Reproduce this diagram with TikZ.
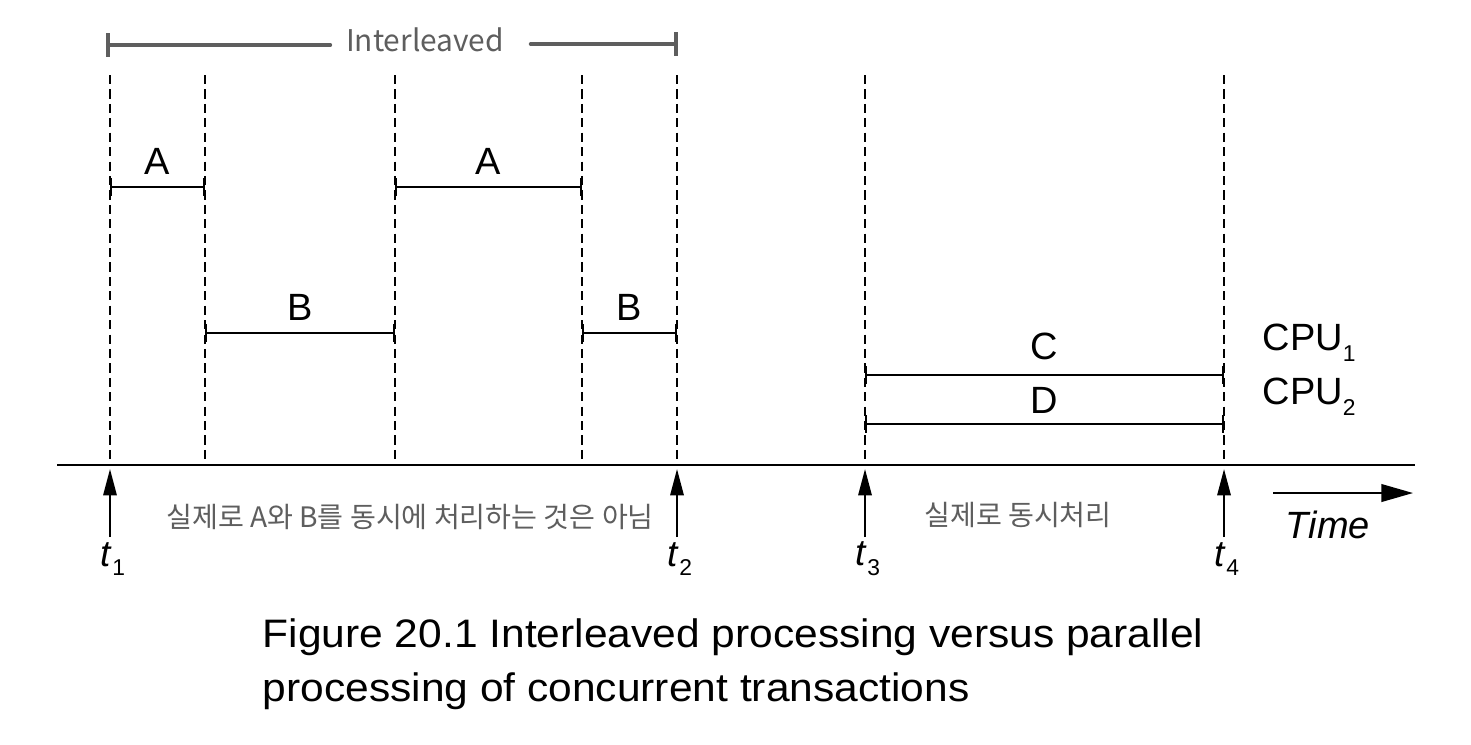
\documentclass[tikz,border=0pt]{standalone}
\usepackage{fontspec}
\setmainfont{Liberation Sans}
\newfontfamily\hangul{Noto Sans CJK KR}
\newfontfamily\capfont[FakeStretch=1.07]{Liberation Sans}
\usetikzlibrary{arrows.meta}

\definecolor{pengray}{HTML}{5E5E5E}

\begin{document}
\begin{tikzpicture}[
    x=0.01cm, y=-0.01cm,
    guide/.style={draw=black, line width=0.6pt, dash pattern=on 2.6pt off 1.5pt},
    slot/.style={draw=black, line width=0.6pt, {Bar[width=5pt]}-{Bar[width=5pt]}},
    axis/.style={draw=black, line width=0.75pt},
    tmark/.style={draw=black, line width=0.6pt, -{Triangle[length=7.5pt, width=3.8pt]}},
    timearrow/.style={draw=black, line width=0.6pt, -{Triangle[length=9pt, width=5pt]}},
    seglbl/.style={font=\fontsize{10.8}{12}\selectfont, inner sep=0pt},
    tlbl/.style={font=\fontsize{10.5}{12}\selectfont, inner sep=0pt},
    pen/.style={draw=pengray, line width=1.1pt, line cap=round},
    hand/.style={font=\hangul\fontsize{8}{10}\selectfont, text=pengray, inner sep=0pt},
]

% === Canvas ===
\useasboundingbox (0,0) rectangle (1471,744);
\fill[white] (0,0) rectangle (1471,744);

% --- Dashed time guides ---
\foreach \n/\x in {a/110, b/205, c/395, d/582, e/677, f/865, g/1224} {
    \coordinate (top\n) at (\x, 75);
    \coordinate (bot\n) at (\x, 465);
    \draw[guide] (top\n) -- (bot\n);
}

% --- Transaction slots ---
\foreach \i/\txt/\xl/\xr/\y/\gap in {1/A/110/205/187/3.4, 2/B/205/395/333/3.4, 3/A/395/582/187/3.4,
                                     4/B/582/677/333/3.4, 5/C/865/1224/375/4, 6/D/865/1224/424/2.6} {
    \coordinate (s\i l) at (\xl, \y);
    \coordinate (s\i r) at (\xr, \y);
    \draw[slot] (s\i l) -- node[seglbl, above=\gap pt] (lbl\i) {\txt} (s\i r);
}

% --- CPU labels ---
\node[seglbl, anchor=west] (cpu1) at (1262, 343) {CPU\raisebox{-0.55ex}{\fontsize{6.5}{8}\selectfont 1}};
\node[seglbl, anchor=west] (cpu2) at (1262, 397) {CPU\raisebox{-0.55ex}{\fontsize{6.5}{8}\selectfont 2}};

% --- Time axis ---
\coordinate (axl) at (57, 465);
\coordinate (axr) at (1415, 465);
\draw[axis] (axl) -- (axr);

% --- Time marks t1..t4 ---
\foreach \i/\x in {1/110, 2/677, 3/865, 4/1224} {
    \coordinate (foot\i) at (\x, 537);
    \coordinate (head\i) at (\x, 469);
    \draw[tmark] (foot\i) -- (head\i);
    \node[tlbl] (t\i) at (\x+3, 559) {\textit{t}\raisebox{-0.5ex}{\fontsize{6.5}{8}\selectfont\i}};
}

% --- Time direction ---
\coordinate (timel) at (1273, 493);
\coordinate (timer) at (1413, 493);
\draw[timearrow] (timel) -- (timer);
\node[tlbl, font=\itshape\fontsize{10.8}{12}\selectfont] (timelbl) at (1328, 525) {Time};

% --- Handwritten notes ---
\node[hand, font=\hangul\fontsize{8.5}{10}\selectfont] (intl) at (425, 40) {Interleaved};
\coordinate (brl) at (106, 45);
\coordinate (brr) at (678, 44);
\draw[pen, {Bar[width=6.8pt]}-] (brl) -- ([xshift=-4.3pt]intl.west |- brl);
\draw[pen, -{Bar[width=6.8pt]}] ([xshift=7.4pt]intl.east |- brr) -- (brr);

\node[hand] (note1) at (410, 517) {실제로 A와 B를 동시에 처리하는 것은 아님};
\node[hand] (note2) at (1018, 515) {실제로 동시처리};

% --- Caption ---
\node[anchor=north west, align=left, inner sep=0pt,
      font=\capfont\fontsize{11.3}{15.4}\selectfont] (caption) at (262, 618)
    {Figure 20.1 Interleaved processing versus parallel\\processing of concurrent transactions};

\end{tikzpicture}
\end{document}
